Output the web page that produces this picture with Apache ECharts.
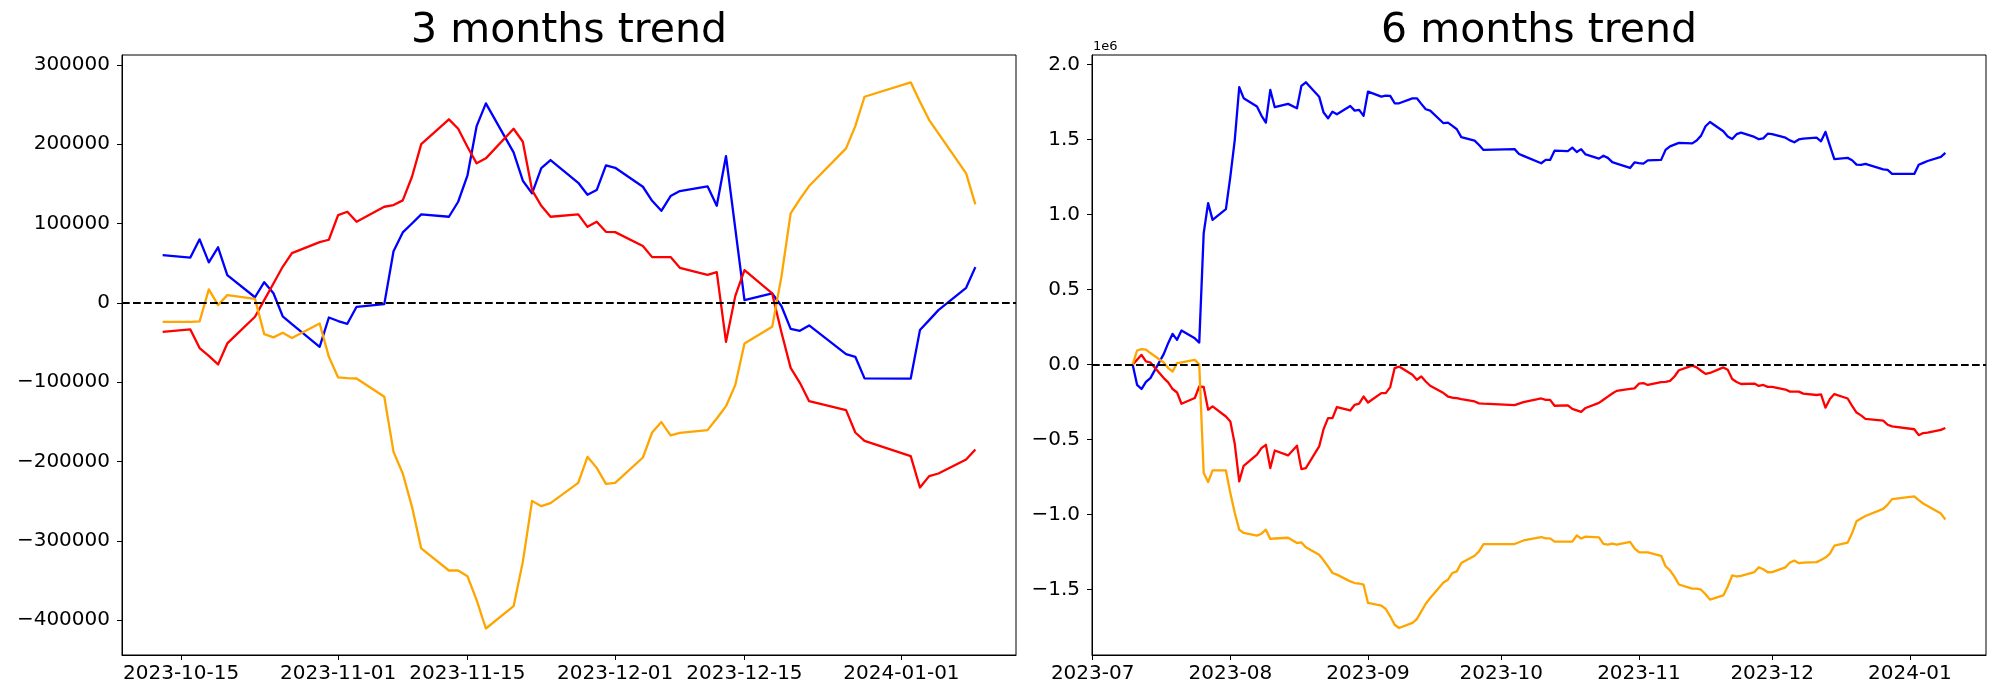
<!DOCTYPE html>
<html>
<head>
<meta charset="utf-8">
<script src="https://cdn.jsdelivr.net/npm/echarts@6/dist/echarts.min.js"></script>
<style>
html,body{margin:0;padding:0;background:#fff;}
#chart{width:2000px;height:700px;}
</style>
</head>
<body>
<div id="chart"></div>
<script>
// ---------- 3 months data ----------
const dates3 = ['2023-10-13','2023-10-16','2023-10-17','2023-10-18','2023-10-19','2023-10-20','2023-10-23','2023-10-24','2023-10-25','2023-10-26','2023-10-27','2023-10-30','2023-10-31',
'2023-11-01','2023-11-02','2023-11-03','2023-11-06','2023-11-07','2023-11-08','2023-11-09','2023-11-10','2023-11-13','2023-11-14','2023-11-15','2023-11-16','2023-11-17','2023-11-20','2023-11-21','2023-11-22','2023-11-23','2023-11-24','2023-11-27','2023-11-28','2023-11-29','2023-11-30',
'2023-12-01','2023-12-04','2023-12-05','2023-12-06','2023-12-07','2023-12-08','2023-12-11','2023-12-12','2023-12-13','2023-12-14','2023-12-15','2023-12-18','2023-12-19','2023-12-20','2023-12-21','2023-12-22','2023-12-26','2023-12-27','2023-12-28',
'2024-01-02','2024-01-03','2024-01-04','2024-01-05','2024-01-08','2024-01-09'];
const blue3 = [60000,57000,80000,51000,70000,35000,7000,26000,12000,-17000,-27000,-55500,-18500,
-23000,-26500,-5000,-1700,65000,88700,100000,111500,108500,127400,160200,222800,251400,189600,153900,138000,169900,180000,151300,136200,142100,173200,
170200,146300,128600,116000,134500,140900,146800,122300,185000,94000,3400,11800,-4000,-32800,-35300,-28500,-64700,-68100,-95300,
-95500,-34400,-21800,-9200,18900,45000];
const red3 = [-36600,-33600,-57100,-67000,-77700,-51200,-17600,3400,24400,45400,62700,76500,79500,
110600,114800,102200,121100,123200,129100,158900,200100,231300,219400,196700,175800,182100,219400,203000,142100,122300,108500,111500,95800,102200,89500,
89100,71500,57600,57600,57600,44100,35300,38700,-49200,8400,41200,11800,-37000,-82000,-100900,-124000,-135300,-163500,-174000,
-193300,-232800,-218500,-215200,-197500,-184900];
const orange3 = [-24000,-24000,-23500,16900,-2900,9700,5000,-39500,-43600,-37800,-44500,-26000,-68100,
-94100,-95000,-95400,-118500,-187900,-215200,-257200,-309700,-337500,-337500,-344600,-374900,-410600,-382500,-326600,-249700,-256400,-252600,-227000,-194200,-208100,-228200,
-227000,-195000,-163500,-150400,-167200,-163900,-160500,-145800,-130300,-103800,-51200,-30300,32800,112700,130800,147200,194700,222800,259800,
277900,253500,230400,213600,163200,124100];
const xTicks3 = ['2023-10-15','2023-11-01','2023-11-15','2023-12-01','2023-12-15','2024-01-01'];
const yTicks3 = [-400000,-300000,-200000,-100000,0,100000,200000,300000];

// ---------- 6 months data (values in units of 1e6) ----------
const dates6 = ['2023-07-10','2023-07-11','2023-07-12','2023-07-13','2023-07-14','2023-07-17','2023-07-18','2023-07-19','2023-07-20','2023-07-21','2023-07-24','2023-07-25','2023-07-26','2023-07-27','2023-07-28','2023-07-31',
'2023-08-01','2023-08-02','2023-08-03','2023-08-04','2023-08-07','2023-08-08','2023-08-09','2023-08-10','2023-08-11','2023-08-14','2023-08-16','2023-08-17','2023-08-18','2023-08-21','2023-08-22','2023-08-23','2023-08-24','2023-08-25','2023-08-28','2023-08-29','2023-08-30','2023-08-31',
'2023-09-01','2023-09-04','2023-09-05','2023-09-06','2023-09-07','2023-09-08','2023-09-11','2023-09-12','2023-09-13','2023-09-14','2023-09-15','2023-09-18','2023-09-19','2023-09-20','2023-09-21','2023-09-22','2023-09-25','2023-09-26','2023-09-27',
'2023-10-04','2023-10-05','2023-10-06','2023-10-10','2023-10-11','2023-10-12'].concat(dates3);
const blue6 = [0.0,-0.135,-0.163,-0.115,-0.09,0.07,0.143,0.205,0.165,0.227,0.175,0.147,0.877,1.077,0.965,1.037,
1.254,1.499,1.85,1.777,1.721,1.661,1.614,1.832,1.717,1.739,1.71,1.859,1.883,1.787,1.681,1.643,1.687,1.67,1.725,1.694,1.699,1.659,
1.821,1.787,1.794,1.792,1.743,1.743,1.776,1.776,1.739,1.703,1.694,1.61,1.614,1.592,1.57,1.517,1.494,1.465,1.432,
1.437,1.405,1.392,1.343,1.365,1.365,
1.427,1.424,1.447,1.418,1.437,1.402,1.374,1.393,1.379,1.350,1.340,1.3115,1.3485,
1.344,1.3405,1.362,1.3653,1.432,1.4557,1.467,1.4785,1.4755,1.4944,1.5272,1.5898,1.6184,1.5566,1.5209,1.505,1.5369,1.547,1.5183,1.5032,1.5091,1.5402,
1.5372,1.5133,1.4956,1.483,1.5015,1.5079,1.5138,1.4893,1.552,1.461,1.3704,1.3788,1.363,1.3342,1.3317,1.3385,1.3023,1.2989,1.2717,
1.2715,1.3326,1.3452,1.3578,1.3859,1.412];
const red6 = [0.0,0.032,0.065,0.021,0.014,-0.09,-0.119,-0.163,-0.186,-0.261,-0.223,-0.146,-0.149,-0.301,-0.279,-0.346,
-0.379,-0.53,-0.779,-0.675,-0.601,-0.557,-0.535,-0.69,-0.573,-0.606,-0.541,-0.697,-0.69,-0.546,-0.43,-0.357,-0.357,-0.283,-0.306,-0.268,-0.261,-0.213,
-0.253,-0.19,-0.19,-0.15,-0.023,-0.013,-0.068,-0.101,-0.079,-0.113,-0.141,-0.19,-0.213,-0.221,-0.223,-0.23,-0.246,-0.259,-0.261,
-0.27,-0.26,-0.25,-0.226,-0.235,-0.235,
-0.2746,-0.2716,-0.2951,-0.305,-0.3157,-0.2892,-0.2556,-0.2346,-0.2136,-0.1926,-0.1753,-0.1615,-0.1585,
-0.1274,-0.1232,-0.1358,-0.1169,-0.1148,-0.1089,-0.0791,-0.0379,-0.0067,-0.0186,-0.0413,-0.0622,-0.0559,-0.0186,-0.035,-0.0959,-0.1157,-0.1295,-0.1265,-0.1422,-0.1358,-0.1485,
-0.1489,-0.1665,-0.1804,-0.1804,-0.1804,-0.1939,-0.2027,-0.1993,-0.2872,-0.2296,-0.1968,-0.2262,-0.275,-0.32,-0.3389,-0.362,-0.3733,-0.4015,-0.412,
-0.4313,-0.4708,-0.4565,-0.4532,-0.4355,-0.4229];
const orange6 = [0.0,0.094,0.103,0.1,0.077,0.014,-0.023,-0.046,0.01,0.014,0.032,0.0,-0.723,-0.783,-0.706,-0.706,
-0.857,-0.99,-1.101,-1.123,-1.141,-1.128,-1.101,-1.163,-1.16,-1.155,-1.19,-1.186,-1.219,-1.268,-1.306,-1.346,-1.39,-1.401,-1.446,-1.457,-1.46,-1.468,
-1.59,-1.608,-1.63,-1.679,-1.735,-1.757,-1.723,-1.697,-1.646,-1.595,-1.557,-1.453,-1.435,-1.39,-1.379,-1.323,-1.275,-1.246,-1.197,
-1.197,-1.185,-1.173,-1.15,-1.159,-1.159,
-1.181,-1.181,-1.1805,-1.1401,-1.1599,-1.1473,-1.152,-1.1965,-1.2006,-1.1948,-1.2015,-1.183,-1.2251,
-1.2511,-1.252,-1.2524,-1.2755,-1.3449,-1.3722,-1.4142,-1.4667,-1.4945,-1.4945,-1.5016,-1.5319,-1.5676,-1.5395,-1.48,-1.4067,-1.4134,-1.4096,-1.384,-1.3512,-1.3651,-1.3852,
-1.384,-1.352,-1.3205,-1.3074,-1.3242,-1.3209,-1.3175,-1.3028,-1.2873,-1.2608,-1.2082,-1.1873,-1.1242,-1.0443,-1.0262,-1.0098,-0.9623,-0.9342,-0.8972,
-0.8791,-0.9035,-0.9266,-0.9434,-0.9938,-1.0329];
const xTicks6 = ['2023-07-01','2023-08-01','2023-09-01','2023-10-01','2023-11-01','2023-12-01','2024-01-01'];
const yTicks6 = [-1.5,-1.0,-0.5,0.0,0.5,1.0,1.5,2.0];

const titles = ['3 months trend','6 months trend'];
const colors = {blue:'#0000ff', red:'#ff0000', orange:'#ffa500'};

// ---------- helpers ----------
const FONT = 'DejaVu Sans';
const DAY = 86400000;
function ts(s){ const p = s.split('-').map(Number); return Date.UTC(p[0], p[1]-1, p[2]); }
function pad(n){ return (n<10?'0':'')+n; }
function minus(s){ return s.replace('-', '\u2212'); }
function pairs(ds, vs){ return ds.map((d,i)=>[ts(d), vs[i]]); }

const grids = [
  {left:122, top:55, width:894, height:600},
  {left:1092, top:55, width:894, height:600}
];

function xAxisDef(gi, minT, maxT, ticks, fmt){
  return {
    type:'value', gridIndex:gi, min:minT, max:maxT, splitLine:{show:false},
    axisLine:{show:true, onZero:false, lineStyle:{color:'#000', width:1}},
    axisTick:{show:true, length:5, lineStyle:{color:'#000', width:1}, customValues:ticks.map(ts)},
    axisLabel:{customValues:ticks.map(ts), fontSize:20, fontFamily:FONT, color:'#000', margin:9, formatter:fmt}
  };
}
function yAxisDef(gi, mn, mx, ticks, fmt){
  return {
    type:'value', gridIndex:gi, min:mn, max:mx, splitLine:{show:false},
    axisLine:{show:true, onZero:false, lineStyle:{color:'#000', width:1}},
    axisTick:{show:true, length:5, lineStyle:{color:'#000', width:1}, customValues:ticks},
    axisLabel:{customValues:ticks, fontSize:20, fontFamily:FONT, color:'#000', margin:12, formatter:fmt}
  };
}
const fmtDay = v => { const d = new Date(v); return d.getUTCFullYear()+'-'+pad(d.getUTCMonth()+1)+'-'+pad(d.getUTCDate()); };
const fmtMonth = v => { const d = new Date(v); return d.getUTCFullYear()+'-'+pad(d.getUTCMonth()+1); };

function lineSeries(gi, ds, vs, color, withZero){
  const s = {
    type:'line', xAxisIndex:gi, yAxisIndex:gi, data:pairs(ds, vs), showSymbol:false, symbol:'none',
    lineStyle:{color:color, width:2.3, join:'round'}, itemStyle:{color:color}, animation:false, silent:true
  };
  if(withZero){
    s.markLine = {silent:true, symbol:['none','none'], label:{show:false}, animation:false,
      lineStyle:{color:'#000', width:2, type:[7.7,3.3]}, data:[{yAxis:0}]};
  }
  return s;
}

const chart = echarts.init(document.getElementById('chart'), null, {renderer:'canvas'});
chart.setOption({
  animation:false,
  backgroundColor:'#fff',
  grid: grids.map(g => Object.assign({show:true, borderColor:'#000', borderWidth:1, backgroundColor:'transparent', containLabel:false}, g)),
  xAxis:[
    xAxisDef(0, ts(dates3[0]) - 4.4*DAY, ts(dates3[dates3.length-1]) + 4.4*DAY, xTicks3, fmtDay),
    xAxisDef(1, ts(dates6[0]) - 9.15*DAY, ts(dates6[dates6.length-1]) + 9.15*DAY, xTicks6, fmtMonth)
  ],
  yAxis:[
    yAxisDef(0, -444000, 312400, yTicks3, v => minus(String(Math.round(v)))),
    yAxisDef(1, -1.937, 2.065, yTicks6, v => minus(v.toFixed(1)))
  ],
  graphic:[
    {type:'text', x:569, y:31, style:{text:titles[0], font:'41px "DejaVu Sans"', fill:'#000', textAlign:'center', textVerticalAlign:'middle'}},
    {type:'text', x:1539, y:31, style:{text:titles[1], font:'41px "DejaVu Sans"', fill:'#000', textAlign:'center', textVerticalAlign:'middle'}},
    {type:'text', x:1093, y:47, style:{text:'1e6', font:'13px "DejaVu Sans"', fill:'#000', textAlign:'left', textVerticalAlign:'middle'}}
  ],
  series:[
    lineSeries(0, dates3, blue3, colors.blue, false),
    lineSeries(0, dates3, red3, colors.red, false),
    lineSeries(0, dates3, orange3, colors.orange, true),
    lineSeries(1, dates6, blue6, colors.blue, false),
    lineSeries(1, dates6, red6, colors.red, false),
    lineSeries(1, dates6, orange6, colors.orange, true)
  ]
});
</script>
</body>
</html>
